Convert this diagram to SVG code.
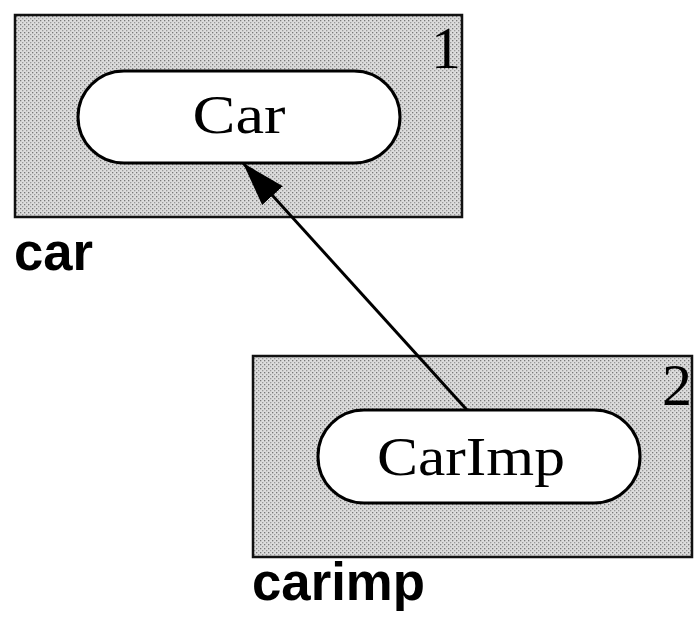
<svg xmlns="http://www.w3.org/2000/svg" width="694" height="617" viewBox="0 0 694 617">
<defs>
<pattern id="dots" width="4" height="4" patternUnits="userSpaceOnUse">
<rect width="4" height="4" fill="#dcdcdc"/>
<rect x="0" y="0" width="1.3" height="1.3" fill="#777"/>
<rect x="2" y="2" width="1.3" height="1.3" fill="#999"/>
</pattern>
<marker id="arr" markerWidth="46" markerHeight="32" refX="44" refY="14" orient="auto" markerUnits="userSpaceOnUse">
<path d="M0,0 L44,14 L0,28 Z" fill="#000"/>
</marker>
</defs>
<style>
.pkg{fill:url(#dots);stroke:#111;stroke-width:2.5}
.cls{fill:#fff;stroke:#000;stroke-width:3}
.cname{font-family:"Liberation Serif","DejaVu Serif",serif;font-size:54px;fill:#000;text-anchor:middle}
.num{font-family:"Liberation Serif","DejaVu Serif",serif;font-size:60px;fill:#000}
.plabel{font-family:"Liberation Sans",Arial,sans-serif;font-weight:bold;font-size:53px;fill:#000}
</style>
<g id="car">
<rect class="pkg" x="15" y="15" width="447" height="202"/>
<text class="num" x="431" y="68">1</text>
<rect class="cls" x="78" y="71" width="322" height="92" rx="46" ry="46"/>
<text class="cname" x="239" y="133" textLength="93" lengthAdjust="spacingAndGlyphs">Car</text>
<text class="plabel" x="14" y="270" textLength="79" lengthAdjust="spacingAndGlyphs">car</text>
</g>
<g id="carimp">
<rect class="pkg" x="253" y="356" width="439" height="201"/>
<text class="num" x="662" y="405">2</text>
<rect class="cls" x="318" y="410" width="322" height="93" rx="46" ry="46"/>
<text class="cname" x="471" y="475" textLength="188" lengthAdjust="spacingAndGlyphs">CarImp</text>
<text class="plabel" x="252" y="600" textLength="173" lengthAdjust="spacingAndGlyphs">carimp</text>
</g>
<g id="connectors">
<line x1="467" y1="410" x2="243" y2="163" stroke="#000" stroke-width="3" marker-end="url(#arr)"/>
</g>
</svg>
